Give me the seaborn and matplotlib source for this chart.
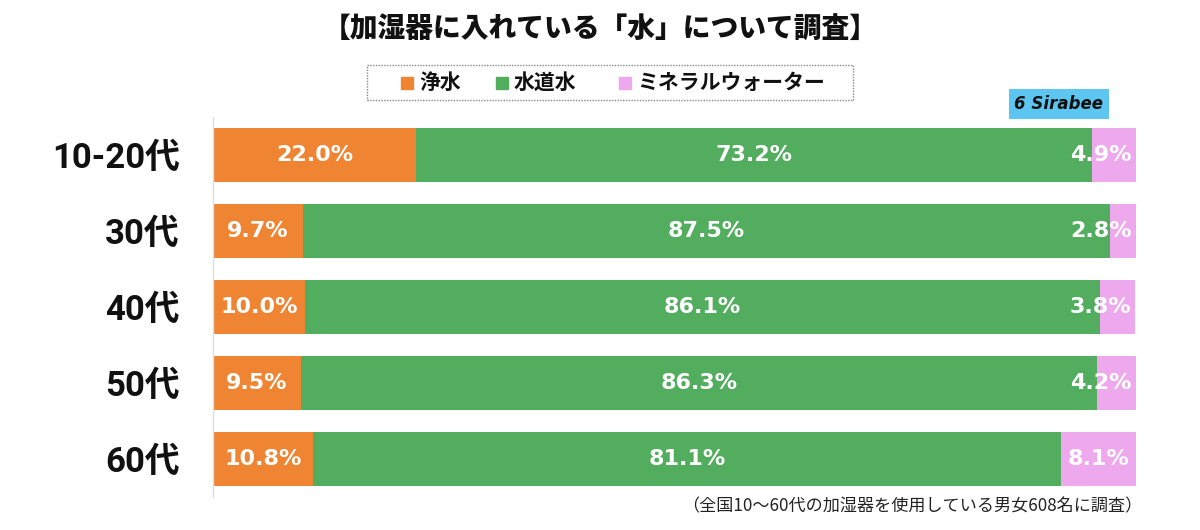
import numpy as np
import pandas as pd
import matplotlib
matplotlib.use("Agg")
import matplotlib.pyplot as plt
import seaborn as sns

#%% Data
ages = ["10-20代", "30代", "40代", "50代", "60代"]
jousui = [22.0, 9.7, 10.0, 9.5, 10.8]        # 浄水
suidousui = [73.2, 87.5, 86.1, 86.3, 81.1]   # 水道水
mineral = [4.9, 2.8, 3.8, 4.2, 8.1]          # ミネラルウォーター
series_names = ["浄水", "水道水", "ミネラルウォーター"]
colors = ["#EF8533", "#52AD5E", "#EEA8EE"]

df = pd.DataFrame({"age": ages, "浄水": jousui, "水道水": suidousui,
                   "ミネラルウォーター": mineral})
df["c1"] = df["浄水"]
df["c2"] = df["c1"] + df["水道水"]
df["c3"] = df["c2"] + df["ミネラルウォーター"]

#%% Plot
sns.set_theme(style="white")
plt.rcParams["font.family"] = ["Noto Sans CJK JP", "DejaVu Sans"]

fig = plt.figure(figsize=(12, 5.3), dpi=100)
ax = fig.add_axes([0.1775, 0.0623, 0.7692, 0.717])

# stacked bars: draw cumulative totals back to front
for col, color in zip(["c3", "c2", "c1"], colors[::-1]):
    sns.barplot(data=df, y="age", x=col, orient="h", color=color,
                width=0.71, saturation=1, ax=ax, edgecolor="none")

ax.set_xlim(0, 100)
ax.set_ylim(4.5, -0.5)
ax.set_xlabel("")
ax.set_ylabel("")
ax.set_xticks([])
ax.tick_params(axis="y", length=0, pad=24)
for lab in ax.get_yticklabels():
    lab.set_fontsize(25)
    lab.set_fontweight("bold")
    lab.set_color("#111111")
    lab.set_family(["Roboto", "Noto Sans CJK JP"])
for side in ["top", "right", "bottom"]:
    ax.spines[side].set_visible(False)
ax.spines["left"].set_color("#dddddd")
ax.spines["left"].set_linewidth(1)

# value labels
for i, row in df.iterrows():
    starts = [0, row["c1"], row["c2"]]
    vals = [row["浄水"], row["水道水"], row["ミネラルウォーター"]]
    for s, v in zip(starts, vals):
        if v >= 6:
            ax.text(s + v / 2, i, f"{v:.1f}%", ha="center", va="center",
                    color="white", fontsize=16, fontweight="bold",
                    family=["DejaVu Sans"])
        else:
            ax.text(99.5, i, f"{v:.1f}%", ha="right", va="center",
                    color="white", fontsize=16, fontweight="bold",
                    family=["DejaVu Sans"])

# title
fig.text(0.5, 0.945, "【加湿器に入れている「水」について調査】", ha="center",
         va="center", fontsize=20, fontweight="heavy", color="#111111")

# legend box
fig.patches.append(plt.Rectangle((367 / 1200, 1 - 100 / 530), 486 / 1200, 35 / 530,
                                 transform=fig.transFigure, fill=False,
                                 edgecolor="#888888", linestyle=(0, (1, 1)),
                                 linewidth=1))
leg_x = [401, 496, 619]
for x0, name, color in zip(leg_x, series_names, colors):
    fig.patches.append(plt.Rectangle((x0 / 1200, 1 - 89 / 530), 12 / 1200, 12 / 530,
                                     transform=fig.transFigure, color=color))
    fig.text((x0 + 18) / 1200, 1 - 82.5 / 530, name, ha="left", va="center",
             fontsize=15, fontweight="bold", color="#111111")

# logo
fig.text(1059 / 1200, 1 - 104 / 530, "6 Sirabee", ha="center", va="center",
         fontsize=12, fontweight="bold", style="italic", color="#111111",
         family=["DejaVu Sans"],
         bbox=dict(boxstyle="square,pad=0.35", facecolor="#5CC6F0", edgecolor="none"))

# footnote
fig.text(1142 / 1200, 1 - 506 / 530, "（全国10〜60代の加湿器を使用している男女608名に調査）",
         ha="right", va="center", fontsize=12.3, color="#222222")

fig.savefig("out.png", dpi=100)
